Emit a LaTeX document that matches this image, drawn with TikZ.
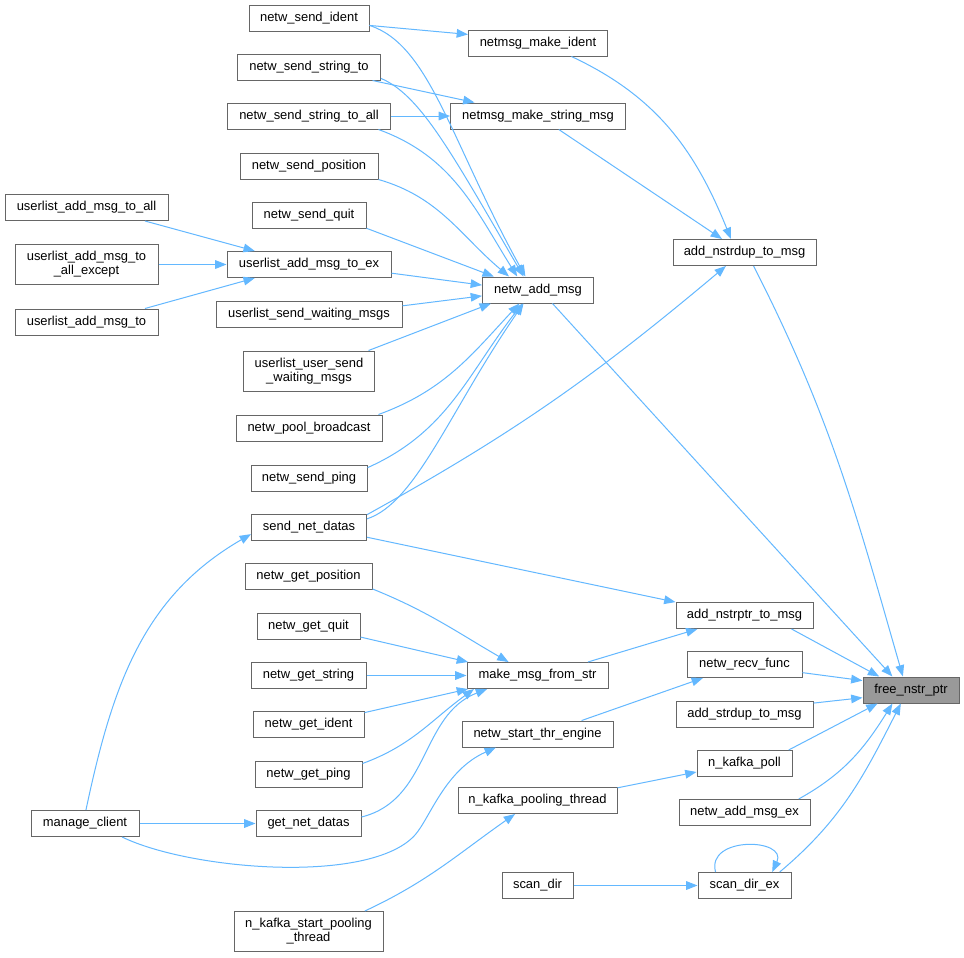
\documentclass[tikz,border=0pt]{standalone}
\usepackage{fontspec}
\newfontfamily\graphfont{Liberation Sans}
\usetikzlibrary{arrows.meta}
\definecolor{edgeblue}{HTML}{63B8FF}
\definecolor{boxgray}{HTML}{666666}
\definecolor{rootgray}{HTML}{999999}
\begin{document}
\begin{tikzpicture}[x=0.75pt,y=-0.75pt,
	fn/.style={draw=boxgray, fill=white, line width=0.75pt, inner sep=1pt, minimum height=19.5pt, font=\graphfont\fontsize{9.7}{10.5}\selectfont},
	bw/.style={minimum width=#1*0.75pt},
	tall/.style={minimum height=30pt, align=center},
	call/.style={draw=edgeblue, line width=0.75pt, -{Triangle[length=8.5pt,width=6.5pt]}}]
	\fill [white] (0,0) rectangle (964,957);
	\node [fn, bw=96, fill=rootgray] (fnp) at (911,690) {free\_nstr\_ptr};
	\node [fn, bw=143] (ands) at (744.5,252.5) {add\_nstrdup\_to\_msg};
	\node [fn, bw=137] (anps) at (744.5,615.5) {add\_nstrptr\_to\_msg};
	\node [fn, bw=115] (nrf) at (744.5,664.5) {netw\_recv\_func};
	\node [fn, bw=137] (asd) at (744.5,714) {add\_strdup\_to\_msg};
	\node [fn, bw=95] (nkp) at (744.5,763.5) {n\_kafka\_poll};
	\node [fn, bw=131] (name) at (744.5,812.5) {netw\_add\_msg\_ex};
	\node [fn, bw=93] (sde) at (744.5,885.5) {scan\_dir\_ex};
	\node [fn, bw=139] (nmi) at (538,43) {netmsg\_make\_ident};
	\node [fn, bw=175] (nmsm) at (538,116) {netmsg\_make\_string\_msg};
	\node [fn, bw=111] (nam) at (538,290) {netw\_add\_msg};
	\node [fn, bw=141] (mmfs) at (537.5,675.5) {make\_msg\_from\_str};
	\node [fn, bw=151] (nste) at (537.5,734) {netw\_start\_thr\_engine};
	\node [fn, bw=159] (nkpt) at (537.5,800.5) {n\_kafka\_pooling\_thread};
	\node [fn, bw=71] (sd) at (537.5,885.5) {scan\_dir};
	\node [fn, bw=120] (nsi) at (309,18) {netw\_send\_ident};
	\node [fn, bw=143] (nsst) at (309,67) {netw\_send\_string\_to};
	\node [fn, bw=163] (nssta) at (309,116) {netw\_send\_string\_to\_all};
	\node [fn, bw=138] (nsp) at (309,166) {netw\_send\_position};
	\node [fn, bw=114] (nsq) at (309,215) {netw\_send\_quit};
	\node [fn, bw=164] (uamte) at (309,264.5) {userlist\_add\_msg\_to\_ex};
	\node [fn, bw=186] (uswm) at (309,314) {userlist\_send\_waiting\_msgs};
	\node [fn, tall, bw=131] (uuswm) at (309,371) {userlist\_user\_send\\\_waiting\_msgs};
	\node [fn, bw=146] (npb) at (309,428) {netw\_pool\_broadcast};
	\node [fn, bw=116] (nspg) at (309,478) {netw\_send\_ping};
	\node [fn, bw=115] (snd) at (309,527) {send\_net\_datas};
	\node [fn, bw=127] (ngpo) at (308.5,576.5) {netw\_get\_position};
	\node [fn, bw=103] (ngq) at (308.5,626) {netw\_get\_quit};
	\node [fn, bw=115] (ngs) at (308.5,675.5) {netw\_get\_string};
	\node [fn, bw=111] (ngi) at (308.5,724.5) {netw\_get\_ident};
	\node [fn, bw=107] (ngpi) at (308.5,774) {netw\_get\_ping};
	\node [fn, bw=105] (gnd) at (308.5,823.5) {get\_net\_datas};
	\node [fn, tall, bw=149] (nkspt) at (308.5,931.5) {n\_kafka\_start\_pooling\\\_thread};
	\node [fn, bw=163] (uamta) at (86.5,207.5) {userlist\_add\_msg\_to\_all};
	\node [fn, tall, bw=143] (uamtae) at (86.5,264.5) {userlist\_add\_msg\_to\\\_all\_except};
	\node [fn, bw=143] (uamt) at (86.5,322) {userlist\_add\_msg\_to};
	\node [fn, bw=108] (mc) at (85,823.5) {manage\_client};
	\draw [call] (ands.-56) to [out=-63,in=106] (fnp.121.6);
	\draw [call] (nam.-43) -- (fnp.144);
	\draw [call] (anps.-16.4) -- (fnp.157);
	\draw [call] (nrf.-8.4) -- (fnp.169.4);
	\draw [call] (asd.9.1) -- (fnp.-171.7);
	\draw [call] (nkp.17) -- (fnp.-158.5);
	\draw [call] (name.14.7) to [out=29,in=-122] (fnp.-144);
	\draw [call] (sde.21) to [out=40,in=-117] (fnp.-127.6);
	\draw [call] (sde.155) to [out=105,in=65,looseness=1.7] (sde.26);
	\draw [call] (sd) -- (sde);
	\draw [call] (nmi.-22) to [out=-25,in=112] (ands.135);
	\draw [call] (nmsm.-33) -- (ands.149.8);
	\draw [call] (snd.12.8) to [out=29,in=-140] (ands.-144.5);
	\draw [call] (nsi.-7) -- (nmi.173);
	\draw [call] (nsst.-12.4) -- (nmsm.168);
	\draw [call] (nssta) -- (nmsm);
	\draw [call] (nsi.-7) .. controls (430,45) and (450,140) .. (nam.133);
	\draw [call] (nsst.-9.5) .. controls (420,95) and (450,150) .. (nam.137);
	\draw [call] (nssta.-11) to [out=-20,in=122] (nam.147);
	\draw [call] (nsp.-11.5) to [out=-16,in=140] (nam.155);
	\draw [call] (nsq.-13) -- (nam.163);
	\draw [call] (uamte.-6.6) -- (nam.175);
	\draw [call] (uswm.5.5) -- (nam.-174);
	\draw [call] (uuswm.19) -- (nam.-164);
	\draw [call] (npb.11.7) to [out=20,in=-133] (nam.-144);
	\draw [call] (nspg.10) to [out=24,in=-128] (nam.-139);
	\draw [call] (snd.8) .. controls (416,503) and (450,410) .. (nam.-137);
	\draw [call] (uamta.-13.9) -- (uamte.166.5);
	\draw [call] (uamtae) -- (uamte);
	\draw [call] (uamt.13.9) -- (uamte.-166.5);
	\draw [call] (mc.86) to [out=78,in=-150] (snd.-173);
	\draw [call] (mc) -- (gnd);
	\draw [call] (mc.-20) .. controls (190,870) and (370,885) .. (415,835) .. controls (430,818) and (445,770) .. (nste.-162);
	\draw [call] (snd.-10.8) -- (anps.169);
	\draw [call] (mmfs.15.4) -- (anps.-164.3);
	\draw [call] (ngpo.-11.5) to [out=-22,in=150] (mmfs.155.6);
	\draw [call] (ngq.-12) -- (mmfs.169.5);
	\draw [call] (ngs) -- (mmfs);
	\draw [call] (ngi.12.5) -- (mmfs.-169.5);
	\draw [call] (ngpi.11.6) to [out=20,in=-144] (mmfs.-168);
	\draw [call] (gnd.7) .. controls (430,800) and (420,715) .. (mmfs.-165);
	\draw [call] (nste.17.8) -- (nrf.-162.5);
	\draw [call] (nkpt.9.8) -- (nkp.-170);
	\draw [call] (nkspt.20.8) to [out=25,in=-145] (nkpt.-149.8);
\end{tikzpicture}
\end{document}
